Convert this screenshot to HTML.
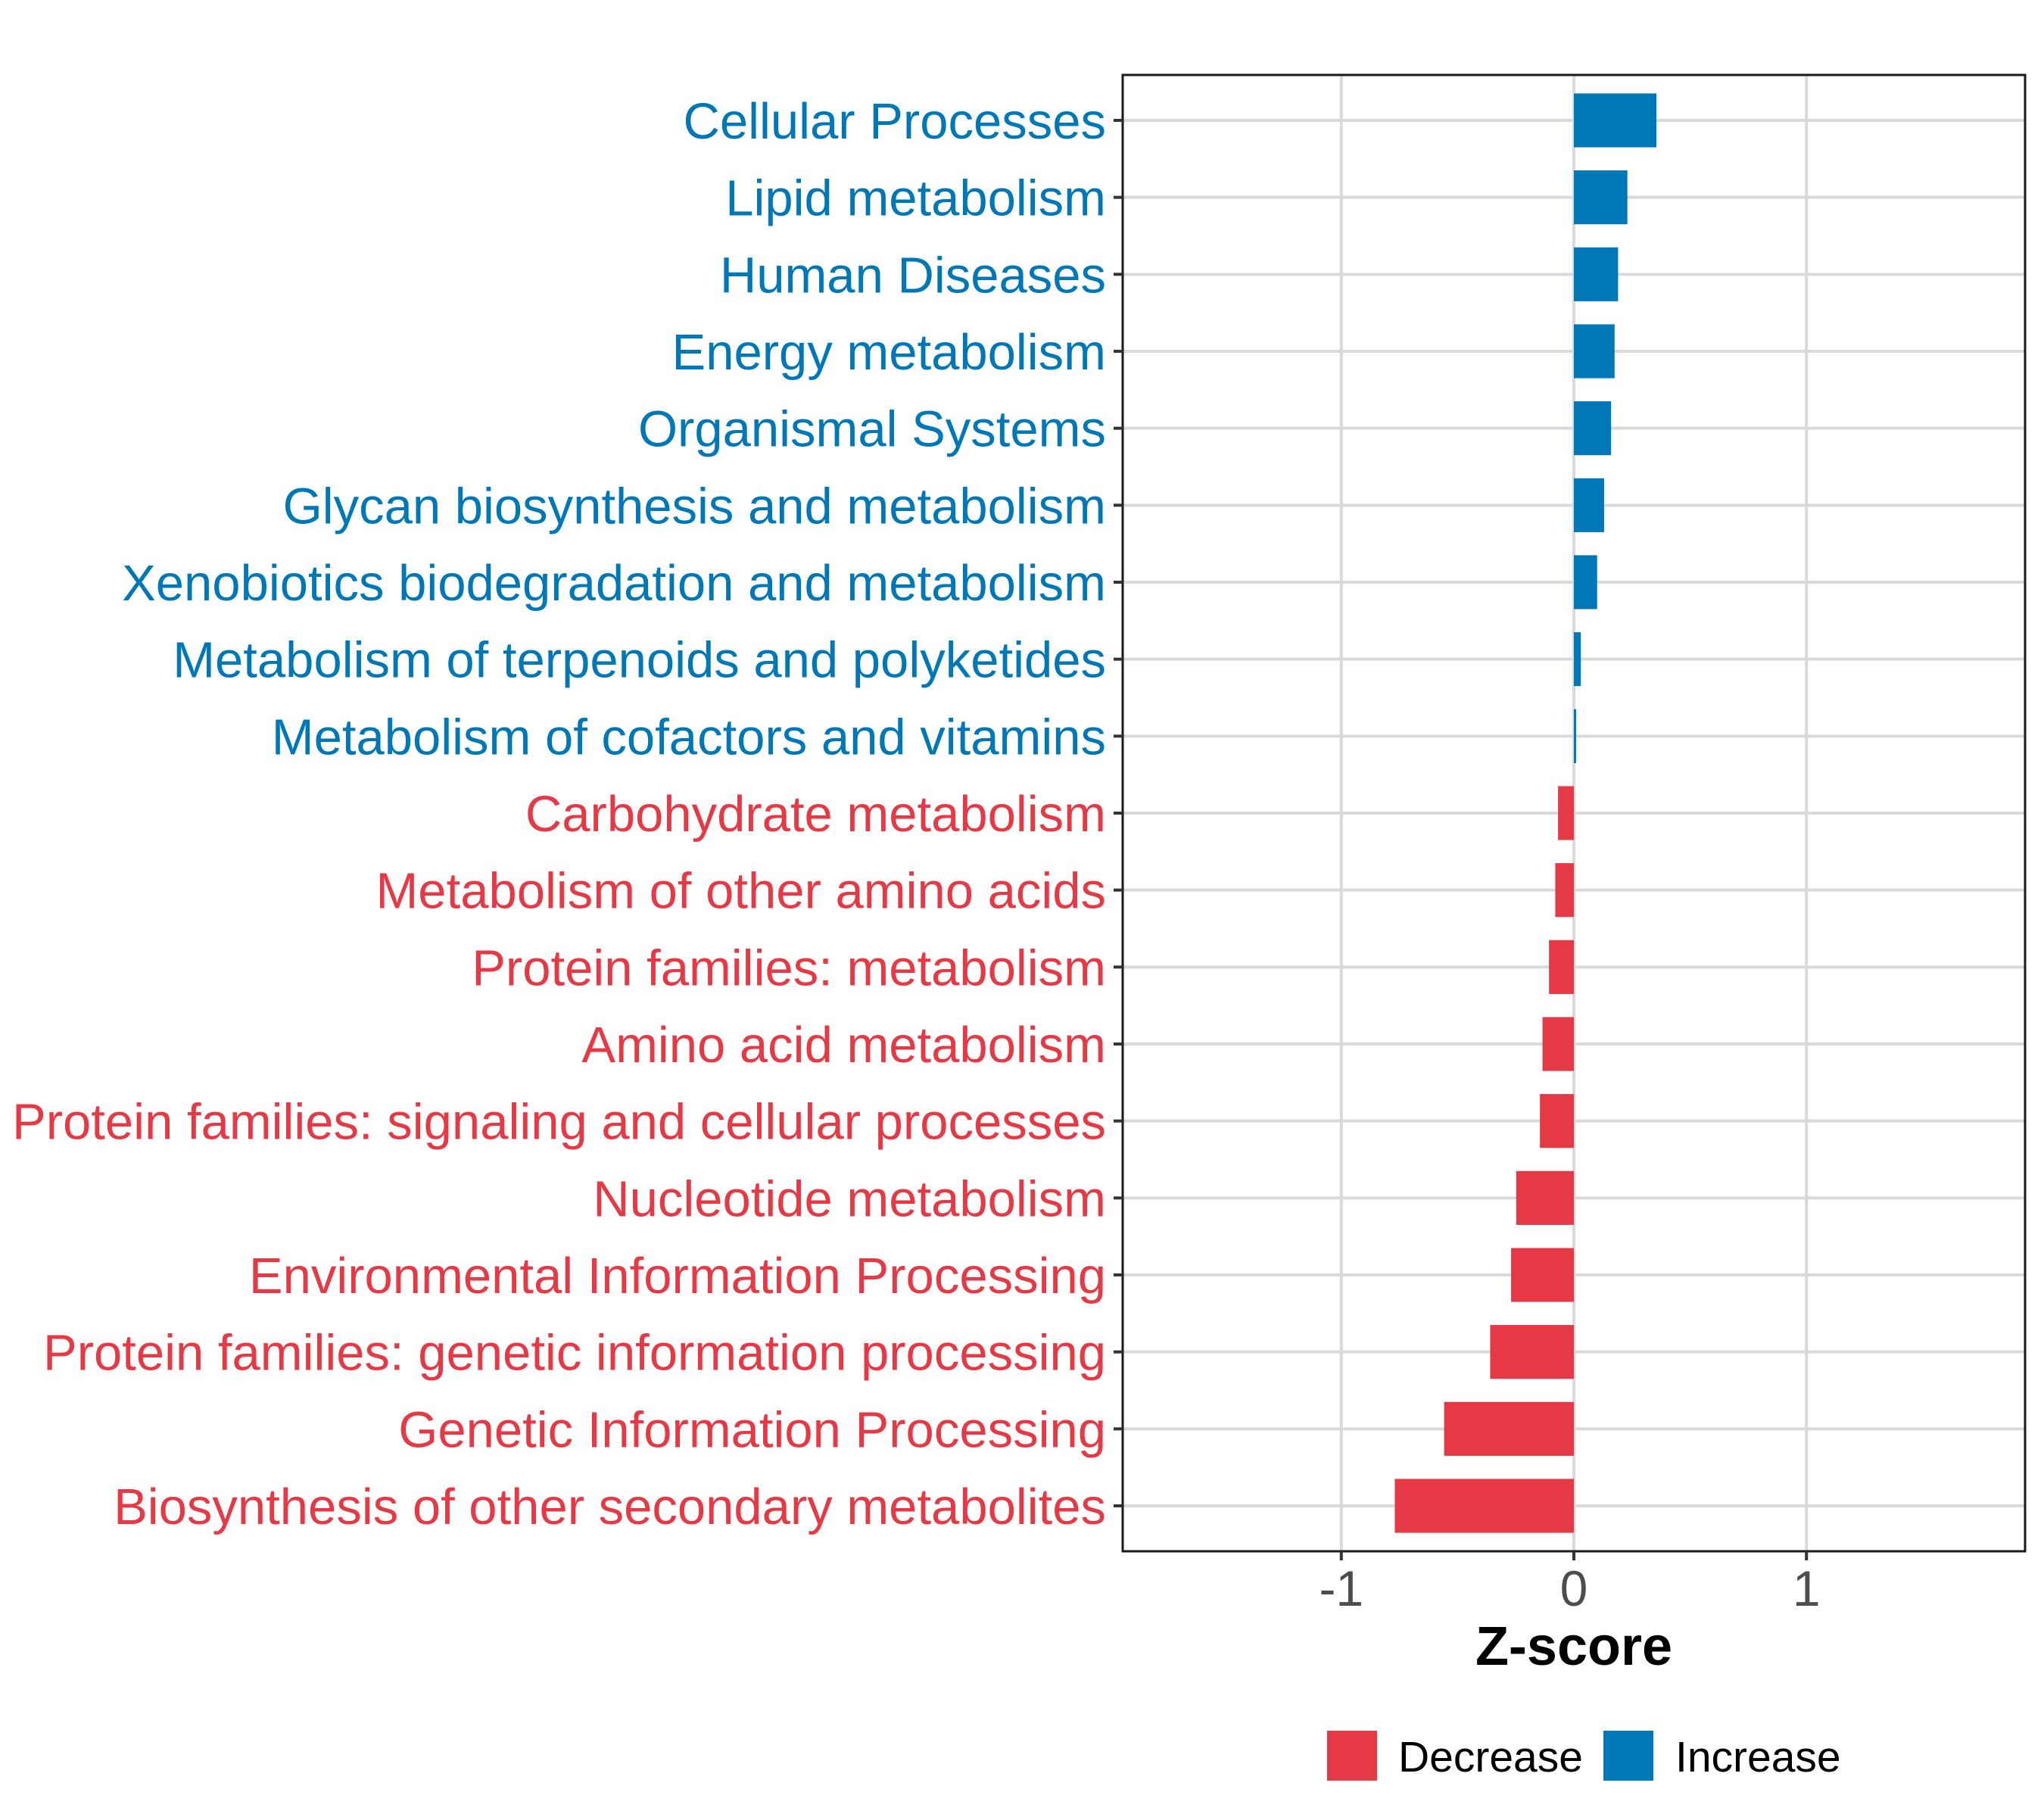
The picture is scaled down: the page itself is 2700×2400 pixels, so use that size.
<!DOCTYPE html>
<html><head><meta charset="utf-8"><style>
html,body{margin:0;padding:0;background:#fff;}
svg{display:block;font-family:"Liberation Sans",Arial,sans-serif;}
</style></head><body>
<svg id="chart" width="2700" height="2400" viewBox="0 0 2700 2400" xmlns="http://www.w3.org/2000/svg">
<rect width="2700" height="2400" fill="#fff"/>
</svg>
<script>
const categories = ["Cellular Processes","Lipid metabolism","Human Diseases","Energy metabolism","Organismal Systems","Glycan biosynthesis and metabolism","Xenobiotics biodegradation and metabolism","Metabolism of terpenoids and polyketides","Metabolism of cofactors and vitamins","Carbohydrate metabolism","Metabolism of other amino acids","Protein families: metabolism","Amino acid metabolism","Protein families: signaling and cellular processes","Nucleotide metabolism","Environmental Information Processing","Protein families: genetic information processing","Genetic Information Processing","Biosynthesis of other secondary metabolites"];
const zscores = [0.355,0.23,0.19,0.175,0.16,0.13,0.10,0.03,0.01,-0.068,-0.08,-0.107,-0.135,-0.146,-0.248,-0.27,-0.36,-0.558,-0.77];
const xTicks = [-1,0,1];
const xTickLabels = ["-1","0","1"];
const legendLabels = ["Decrease","Increase"];

const NS="http://www.w3.org/2000/svg";
const svg=document.getElementById('chart');
const L=1483,R=2675,T=99,B=2049;
const xmin=-1.94,xmax=1.94;
const RED="#E63946",BLUE="#0077B6";
function xs(v){return L+(v-xmin)/(xmax-xmin)*(R-L);}
const n=categories.length;
const step=(B-T)/(n-1+1.18);
function ys(i){return T+0.59*step+i*step;}
function mk(tag,attrs,parent){const e=document.createElementNS(NS,tag);for(const k in attrs)e.setAttribute(k,attrs[k]);(parent||svg).appendChild(e);return e;}

const grid=mk('g',{});


xTicks.forEach(t=>{const l=mk('line',{x1:xs(t),x2:xs(t),y1:T,y2:B,stroke:'#d9d9d9','stroke-width':4},grid);

});
categories.forEach((c,i)=>{const l=mk('line',{x1:L,x2:R,y1:ys(i),y2:ys(i),stroke:'#d9d9d9','stroke-width':4},grid);

});

const bars=mk('g',{});


const bh=step*0.7;
zscores.forEach((v,i)=>{const x0=xs(0),x1=xs(v);
const r=mk('rect',{x:Math.min(x0,x1),y:ys(i)-bh/2,width:Math.max(Math.abs(x1-x0),2),height:bh,fill:v>=0?BLUE:RED},bars);

});

const border=mk('rect',{x:L,y:T,width:R-L,height:B-T,fill:'none',stroke:'#1a1a1a','stroke-width':3});



const ylab=mk('g',{});


categories.forEach((c,i)=>{
const tk=mk('line',{x1:L-12,x2:L,y1:ys(i),y2:ys(i),stroke:'#333','stroke-width':4},ylab);


const t=mk('text',{x:L-22,y:ys(i)+24,'text-anchor':'end','font-size':67,fill:zscores[i]>=0?BLUE:RED},ylab);
t.textContent=c;

});

const xlab=mk('g',{});


xTicks.forEach((t,i)=>{
const tk=mk('line',{x1:xs(t),x2:xs(t),y1:B,y2:B+12,stroke:'#333','stroke-width':4},xlab);


const tx=mk('text',{x:xs(t),y:2121,'text-anchor':'middle','font-size':66,fill:'#4d4d4d'},xlab);
tx.textContent=xTickLabels[i];

});
const xt=mk('text',{x:xs(0),y:2199,'text-anchor':'middle','font-size':72,'font-weight':'bold',fill:'#000'});
xt.textContent='Z-score';



const leg=mk('g',{});


const lx=[1753,2118],tx=[1847,2213],cols=[RED,BLUE];
legendLabels.forEach((s,i)=>{
const r=mk('rect',{x:lx[i],y:2286,width:66,height:66,fill:cols[i]},leg);


const t=mk('text',{x:tx[i],y:2340,'font-size':57,fill:'#000'},leg);
t.textContent=s;

});
</script>
</body></html>
